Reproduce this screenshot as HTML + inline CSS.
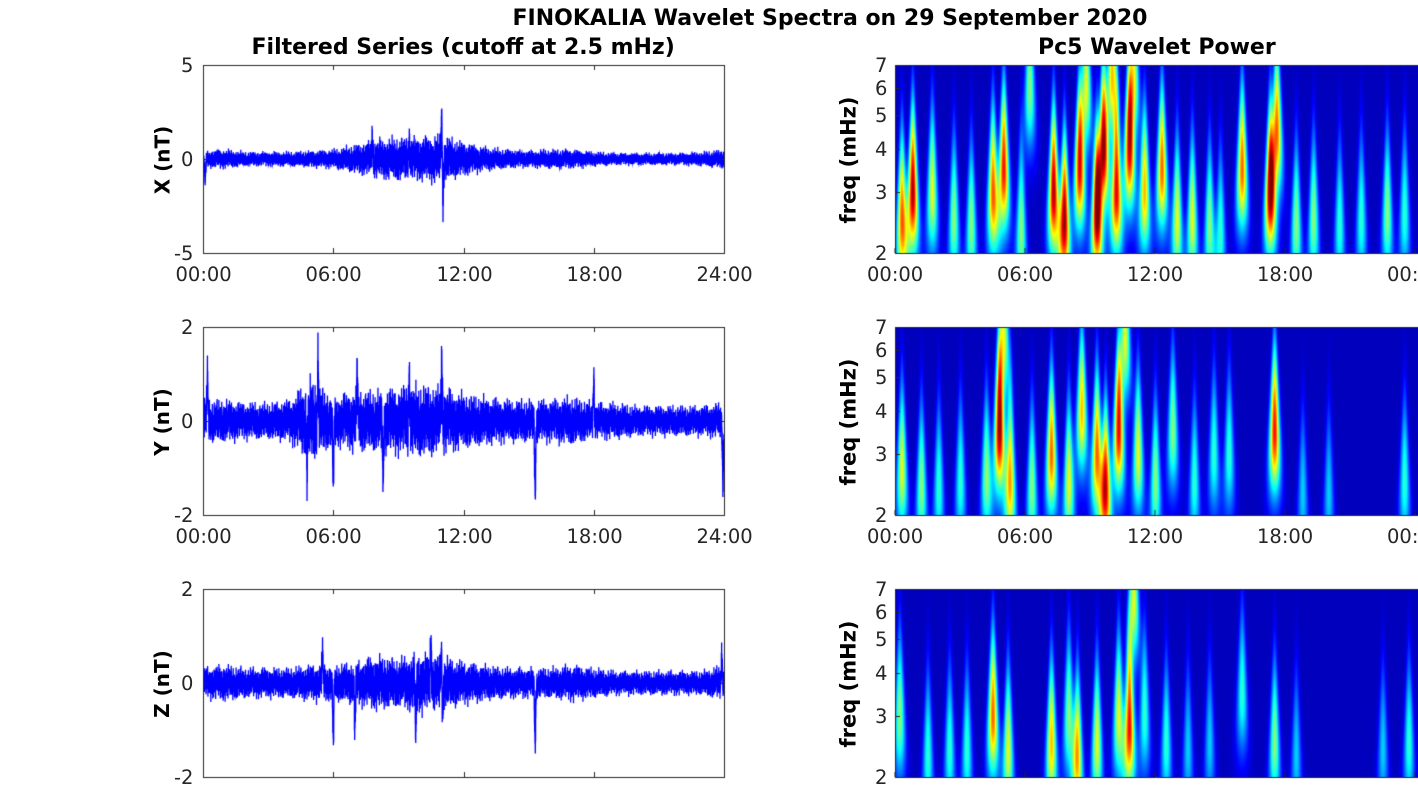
<!DOCTYPE html>
<html><head><meta charset="utf-8"><style>
body{margin:0;background:#fff;width:1418px;height:788px;overflow:hidden;position:relative;font-family:"DejaVu Sans","Liberation Sans",sans-serif;color:#262626}
canvas{position:absolute;left:0;top:0}
.t{position:absolute;white-space:nowrap;font-size:19.5px}
.b{font-weight:bold;color:#000;font-size:22px}
.yl{position:absolute;font-weight:bold;font-size:20px;color:#000;transform:rotate(-90deg);transform-origin:center;white-space:nowrap}
.yl2{font-size:21px}
</style></head><body>
<canvas id="c" width="1418" height="788"></canvas>
<div id="labels"></div>
<script>
// ---- data ----
const hours=[0,6,12,18,24];
const xTickLabels=["00:00","06:00","12:00","18:00","24:00"];
const rTickLabels=["00:00","06:00","12:00","18:00","00:00"];
const freqTicks=[2,3,4,5,6,7];
const envX=[0.35,0.4,0.3,0.3,0.3,0.35,0.4,0.6,0.8,0.9,0.9,1.0,0.7,0.5,0.4,0.35,0.4,0.4,0.3,0.25,0.25,0.25,0.25,0.3,0.4];
const envY=[0.35,0.35,0.3,0.3,0.35,0.7,0.4,0.5,0.5,0.55,0.6,0.55,0.45,0.4,0.35,0.35,0.35,0.4,0.3,0.3,0.25,0.25,0.25,0.25,0.3];
const envZ=[0.25,0.3,0.25,0.25,0.25,0.3,0.3,0.35,0.45,0.4,0.5,0.45,0.35,0.3,0.25,0.25,0.25,0.3,0.25,0.2,0.2,0.2,0.2,0.2,0.3];
const spikesX=[[11,2.6],[11.05,-2.4],[7.8,1.2],[0.1,-1.2],[9.5,1.1]];
const spikesY=[[0.2,1],[5.3,1.2],[6,-1.5],[7.1,0.9],[8.3,-1.3],[11,1.3],[15.3,-1.5],[18,0.9],[23.95,-1.3],[4.8,-0.9],[9.5,0.95]];
const spikesZ=[[5.5,0.7],[6,-1.3],[11,1.3],[11.02,-1.3],[15.3,-1.3],[10.5,0.9],[9.8,-1],[7,-1],[23.9,0.6]];
const burstsX=[[0.3,2.5,0.8],[0.8,3,1],[1.7,3,0.6],[2.7,2.5,0.5],[3.5,2.4,0.5],[4.5,3,0.8],[5,3.5,0.9],[5.8,2.3,0.5],[7.3,3,1],[7.8,2.5,1],[8.5,3.5,0.9],[9.3,2.6,1],[9.6,4,1],[10.2,3,0.9],[10.8,4,0.9],[11.5,3,0.7],[12.3,3.5,0.8],[13,2.5,0.6],[13.7,2.5,0.6],[14.5,2.4,0.5],[15,2.3,0.4],[16,3.5,0.8],[17.3,3,1],[17.6,4.5,0.8],[18.5,2.4,0.5],[19.3,2.5,0.5],[20.5,2.4,0.4],[21.5,2.5,0.4],[22.7,2.6,0.5],[23.5,2.6,0.4],[6.2,6,0.5],[8.8,6,0.6],[10,6.5,0.7],[11,6.5,0.6]];
const burstsY=[[0.3,2.7,0.6],[1.2,2.4,0.5],[2,2.4,0.4],[3,2.5,0.4],[4.2,2.6,0.5],[4.8,3.5,1],[5.3,2.5,0.7],[6.3,2.4,0.5],[7.2,3,0.8],[8,2.5,0.6],[8.6,4,0.7],[9.3,3,0.8],[9.7,2.4,0.9],[10.3,3.5,0.9],[11.2,3,0.6],[12,2.5,0.5],[12.8,3.5,0.5],[13.8,2.5,0.4],[14.7,3,0.4],[15.4,3,0.4],[17.5,3.5,0.9],[18.8,2.3,0.3],[20,2.3,0.3],[23.5,2.5,0.4],[5,6.5,0.6],[10.6,6.5,0.6]];
const burstsZ=[[0.2,3,0.5],[1.5,2.3,0.4],[2.5,2.4,0.4],[3.3,2.4,0.4],[4.5,3,0.8],[5.2,2.4,0.6],[7.2,2.5,0.7],[8,3,0.5],[8.4,2.3,0.7],[9.3,2.5,0.6],[10.3,3,0.6],[10.8,2.8,0.9],[11.5,3,0.4],[12.5,2.5,0.4],[13.5,2.4,0.3],[14.5,2.5,0.3],[16,3.5,0.4],[17.5,2.5,0.5],[18.5,2.3,0.3],[22.5,2.4,0.3],[23.7,2.5,0.4],[11,6.5,0.6]];

const rows=[{top:65,bot:253,lim:5,ticks:[-5,0,5],env:envX,sp:spikesX,bu:burstsX,lab:"X (nT)",xt:true},
 {top:327,bot:515,lim:2,ticks:[-2,0,2],env:envY,sp:spikesY,bu:burstsY,lab:"Y (nT)",xt:true},
 {top:589,bot:777,lim:2,ticks:[-2,0,2],env:envZ,sp:spikesZ,bu:burstsZ,lab:"Z (nT)",xt:false}];
const L0=203,L1=724,R0=895,R1=1415;
const c=document.getElementById('c'),g=c.getContext('2d');
const lab=document.getElementById('labels');
function txt(s,x,y,cls,align,name){const d=document.createElement('div');d.className='t '+(cls||'');d.textContent=s;
 
 
 lab.appendChild(d);const w=d.offsetWidth,h=d.offsetHeight;
 d.style.left=(align==='c'?x-w/2:align==='r'?x-w:x)+'px';d.style.top=(y-h/2)+'px';return d;}
function jet(v){v=Math.max(0,Math.min(1,v));const cl=a=>Math.max(0,Math.min(1,a));
 return [cl(1.5-Math.abs(4*v-3))*255,cl(1.5-Math.abs(4*v-2))*255,cl(1.5-Math.abs(4*v-1))*255];}
txt("FINOKALIA Wavelet Spectra on 29 September 2020",830,18,'b','c','main-title');
txt("Filtered Series (cutoff at 2.5 mHz)",463,47,'b','c','left-title');
txt("Pc5 Wavelet Power",1157,47,'b','c','right-title');
rows.forEach((r,ri)=>{
 const H=r.bot-r.top, sx=h=>L0+h/24*(L1-L0), sy=v=>r.top+(r.lim-v)/(2*r.lim)*H;
 g.save();g.beginPath();g.rect(L0,r.top,L1-L0,H);g.clip();
 g.strokeStyle='#0000ff';g.lineWidth=1.3;g.beginPath();
 const N=6000;
 for(let i=0;i<=N;i++){const h=i/N*24;const k=Math.min(23,Math.floor(h));const f=h-k;
  const e=1.25*(r.env[k]*(1-f)+r.env[k+1]*f);
  let v=e*(0.75*Math.sin(i*2.3+ri)*Math.cos(i*0.173)+0.35*Math.sin(i*5.71)+0.15*Math.sin(i*0.047));
  r.sp.forEach(s=>{const d=(h-s[0])/0.035;v+=s[1]*Math.exp(-d*d)*(Math.abs(Math.sin(i*1.9))>0.2?1:0.6);});
  const X=sx(h),Y=sy(v);i?g.lineTo(X,Y):g.moveTo(X,Y);}
 g.stroke();g.restore();
 g.strokeStyle='#262626';g.lineWidth=1;g.strokeRect(L0+0.5,r.top+0.5,L1-L0,H);
 r.ticks.forEach(t=>{const y=Math.round(sy(t))+0.5;g.beginPath();g.moveTo(L0,y);g.lineTo(L0+5,y);g.moveTo(L1,y);g.lineTo(L1-5,y);g.stroke();
  txt(String(t),L0-10,y,'','r','y-tick-'+ri);});
 hours.forEach((h,j)=>{const x=Math.round(sx(h))+0.5;g.beginPath();g.moveTo(x,r.bot);g.lineTo(x,r.bot-5);g.moveTo(x,r.top);g.lineTo(x,r.top+5);g.stroke();
  if(r.xt)txt(xTickLabels[j],x,r.bot+21,'','c','x-tick-'+ri);});
 const yl=txt(r.lab,157,(r.top+r.bot)/2,'','c','y-axis-title-'+ri);yl.className='yl';
 const W=R1-R0, img=g.createImageData(1418-R0,H), lr=Math.log(7/2);
 const fy=f=>r.bot-Math.log(f/2)/lr*H;
 for(let py=0;py<H;py++){const f=2*Math.exp((H-py)/H*lr);const lf=Math.log(f);
  for(let px=0;px<1418-R0;px++){const h=px/W*24;let p=0;
   r.bu.forEach(b=>{const tw=0.16*(3/f)*(b[1]/3);const dt=(h-b[0])/tw;const df=(lf-Math.log(b[1]))/(0.28+0.12*(f>b[1]?1:0));
    p+=b[2]*Math.exp(-dt*dt/2-df*df/2);});
   const col=jet(0.06+p*0.9);const o=(py*(1418-R0)+px)*4;img.data[o]=col[0];img.data[o+1]=col[1];img.data[o+2]=col[2];img.data[o+3]=255;}}
 g.putImageData(img,R0,r.top);
 g.strokeStyle='#262626';g.beginPath();g.moveTo(R0+0.5,r.top);g.lineTo(R0+0.5,r.bot+0.5);g.lineTo(1418,r.bot+0.5);g.moveTo(R0,r.top+0.5);g.lineTo(1418,r.top+0.5);g.stroke();
 freqTicks.forEach(f=>{const y=Math.round(fy(f))+0.5;g.beginPath();g.moveTo(R0,y);g.lineTo(R0+5,y);g.stroke();txt(String(f),R0-8,y,'','r','freq-tick-'+ri);});
 hours.forEach((h,j)=>{const x=R0+h/24*W;g.beginPath();g.moveTo(x,r.bot);g.lineTo(x,r.bot-5);g.stroke();
  if(r.xt)txt(rTickLabels[j],x,r.bot+21,'','c','wavelet-x-tick-'+ri);});
 const fl=txt("freq (mHz)",837,(r.top+r.bot)/2,'','c','freq-axis-title-'+ri);fl.className='yl yl2';
});
</script>
</body></html>
